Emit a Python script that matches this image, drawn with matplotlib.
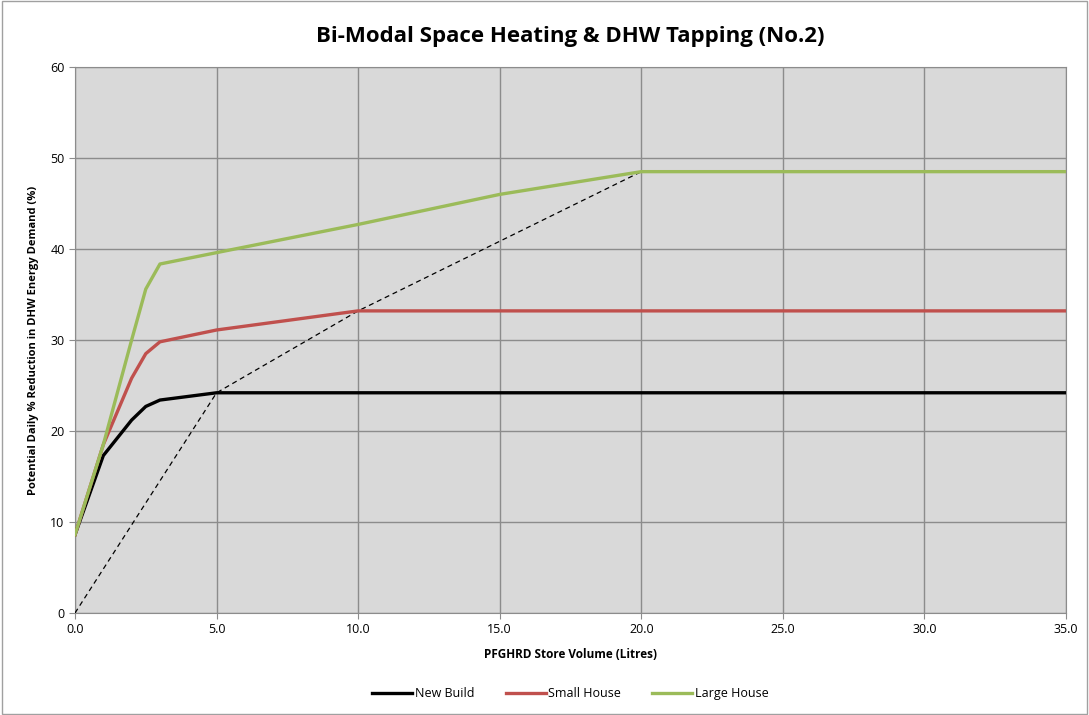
import numpy as np
import matplotlib.pyplot as plt

# store volume (litres)
volume = [0.0, 1.0, 2.0, 2.5, 3.0, 5.0, 10.0, 15.0, 20.0, 35.0]
new_build = [8.6, 17.3, 21.2, 22.7, 23.4, 24.2, 24.2, 24.2, 24.2, 24.2]
small_house = [8.6, 18.5, 25.8, 28.5, 29.8, 31.1, 33.2, 33.2, 33.2, 33.2]
large_house = [8.6, 18.5, 30.0, 35.6, 38.35, 39.6, 42.7, 46.0, 48.5, 48.5]

# dashed guide through the knee points
guide_x = [0.0, 5.0, 10.0, 20.0]
guide_y = [0.0, 24.2, 33.2, 48.5]

plt.rcParams['font.family'] = ['Open Sans', 'DejaVu Sans']

fig = plt.figure(figsize=(10.89, 7.15), dpi=100)
ax = fig.add_axes([75 / 1089, 1 - 613 / 715, (1066 - 75) / 1089, (613 - 67) / 715])
ax.set_facecolor('#D9D9D9')

ax.plot(guide_x, guide_y, color='black', lw=0.9, ls=(0, (4, 3)), zorder=3)
ax.plot(volume, new_build, color='black', lw=2.4, label='New Build', zorder=4)
ax.plot(volume, small_house, color='#C0504D', lw=2.4, label='Small House', zorder=4)
ax.plot(volume, large_house, color='#9BBB59', lw=2.4, label='Large House', zorder=4)

ax.set_xlim(0, 35)
ax.set_ylim(0, 60)
ax.set_xticks(np.arange(0, 36, 5))
ax.set_xticklabels(['%.1f' % v for v in np.arange(0, 36, 5)])
ax.set_yticks(np.arange(0, 61, 10))
ax.grid(True, color='#8C8C8C', lw=1.0)
ax.set_axisbelow(True)
for sp in ax.spines.values():
    sp.set_color('#8C8C8C')
ax.tick_params(colors='#8C8C8C', labelcolor='black', labelsize=9, length=4)

ax.set_title('Bi-Modal Space Heating & DHW Tapping (No.2)', fontsize=16, fontweight='bold', pad=18)
ax.set_xlabel('PFGHRD Store Volume (Litres)', fontsize=8.5, fontweight='bold', labelpad=8)
ax.set_ylabel('Potential Daily % Reduction in DHW Energy Demand (%)', fontsize=8, fontweight='bold', labelpad=8)

ax.legend(loc='upper center', bbox_to_anchor=(0.5, -0.115), ncol=3, frameon=False, fontsize=9,
          handlelength=3.2, handletextpad=0.2, columnspacing=2.5)

fig.patches.append(plt.Rectangle((0.002, 0.002), 0.996, 0.996, transform=fig.transFigure,
                                 fill=False, edgecolor='#A0A0A0', lw=1))

fig.savefig('out.png', dpi=100)
